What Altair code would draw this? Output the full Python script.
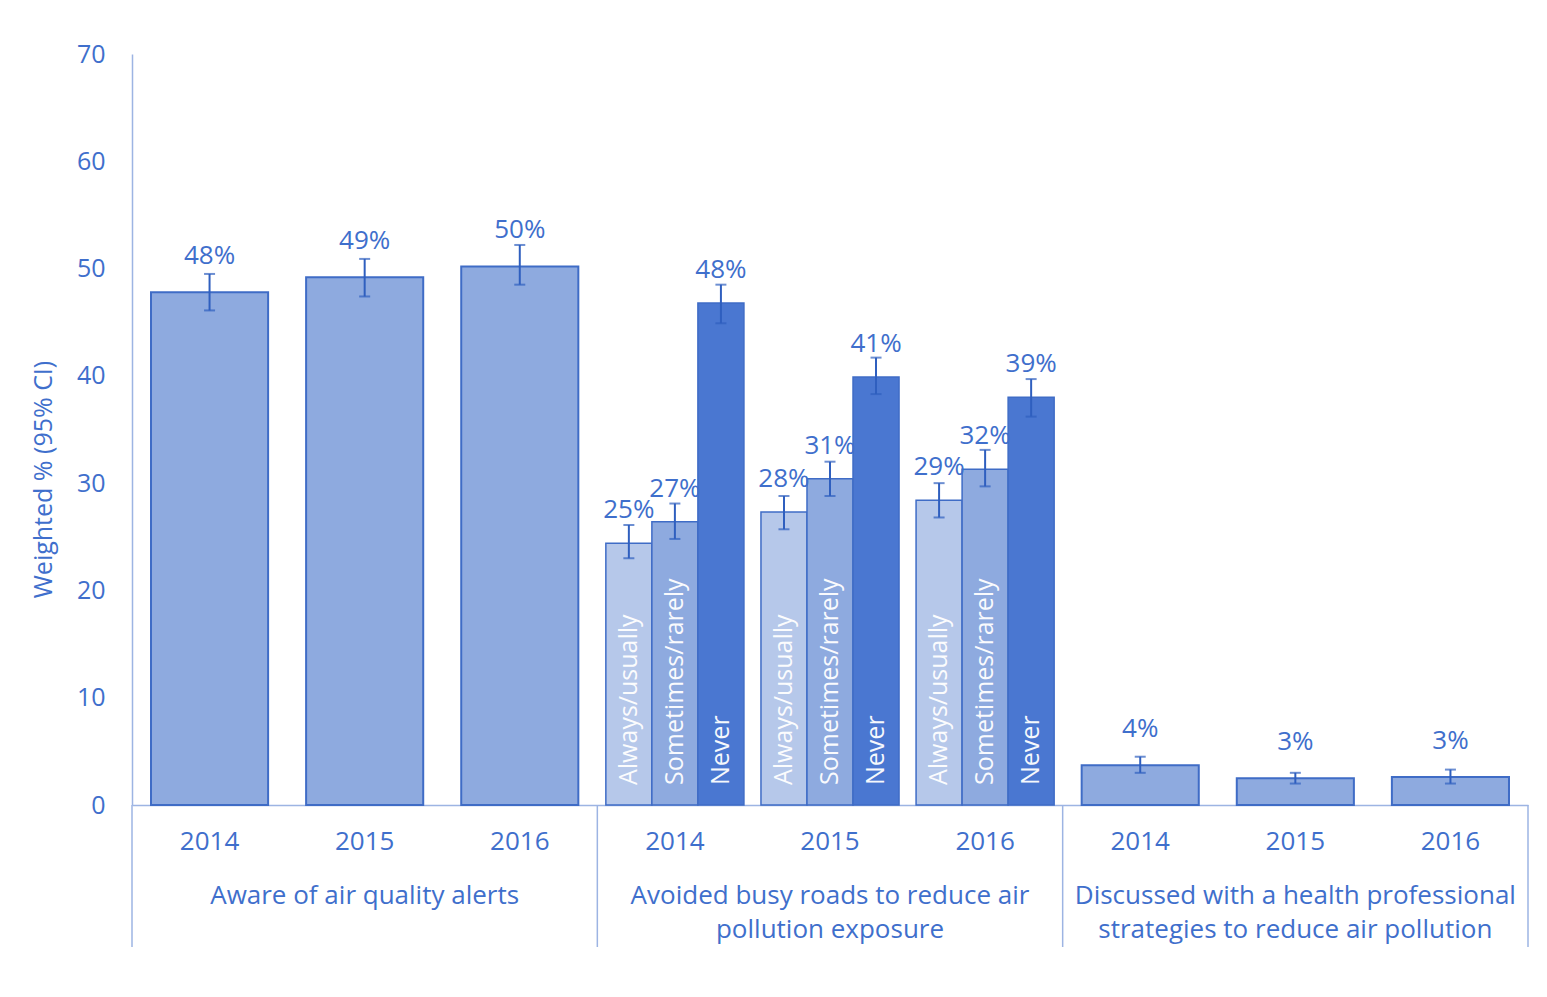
import altair as alt
import pandas as pd

# ---------------- data ----------------
years = ["2014", "2015", "2016"]
groups = ["g1", "g2", "g3"]
group_titles = [
    "Aware of air quality alerts",
    "Avoided busy roads to reduce air\npollution exposure",
    "Discussed with a health professional\nstrategies to reduce air pollution",
]

aware_vals = [47.8, 49.2, 50.2]
aware_lo = [46.1, 47.4, 48.5]
aware_hi = [49.5, 50.9, 52.2]
aware_labels = ["48%", "49%", "50%"]

freqs = ["Always/usually", "Sometimes/rarely", "Never"]
avoid_vals = [[24.4, 26.4, 46.8], [27.3, 30.4, 39.9], [28.4, 31.3, 38.0]]
avoid_lo = [[23.0, 24.8, 44.9], [25.7, 28.8, 38.3], [26.8, 29.7, 36.2]]
avoid_hi = [[26.1, 28.1, 48.5], [28.8, 32.0, 41.7], [30.0, 33.1, 39.7]]
avoid_labels = [["25%", "27%", "48%"], ["28%", "31%", "41%"], ["29%", "32%", "39%"]]

discuss_vals = [3.7, 2.5, 2.6]
discuss_lo = [3.0, 2.0, 2.0]
discuss_hi = [4.5, 3.0, 3.3]
discuss_labels = ["4%", "3%", "3%"]

y_ticks = [0, 10, 20, 30, 40, 50, 60, 70]

# ---------------- tables ----------------
slots = [f"{g}_{y}" for g in groups for y in years]

rows = []
for i, y in enumerate(years):
    rows.append(dict(slot=f"g1_{y}", value=aware_vals[i], lo=aware_lo[i], hi=aware_hi[i], label=aware_labels[i]))
    rows.append(dict(slot=f"g3_{y}", value=discuss_vals[i], lo=discuss_lo[i], hi=discuss_hi[i], label=discuss_labels[i]))
df_main = pd.DataFrame(rows)

rows = []
for i, y in enumerate(years):
    for j, f in enumerate(freqs):
        rows.append(dict(slot=f"g2_{y}", freq=f, value=avoid_vals[i][j], lo=avoid_lo[i][j],
                         hi=avoid_hi[i][j], label=avoid_labels[i][j]))
df_avoid = pd.DataFrame(rows)

df_groups = pd.DataFrame(dict(slot=[f"{g}_{years[1]}" for g in groups], text=group_titles))
df_sep_start = pd.DataFrame(dict(slot=[f"{g}_{years[0]}" for g in groups]))
df_sep_end = pd.DataFrame(dict(slot=[f"{groups[-1]}_{years[-1]}"]))

# ---------------- style ----------------
FONT = "Open Sans"
TXT = "#3f6fcc"
AXIS_LINE = "#9db4e3"
STROKE = "#3f6cc6"
ERR = "#2f5fbf"
freq_colors = ["#b6c8ea", "#8eaadf", "#4a77d1"]
W, H = 1396, 751

x_scale = alt.Scale(domain=slots, paddingInner=0, paddingOuter=0)
x_axis = alt.Axis(title=None, labelExpr="split(datum.label, '_')[1]", ticks=False,
                  domainColor=AXIS_LINE, domainWidth=1.5, labelFontSize=26, labelFont=FONT,
                  labelColor=TXT, labelPadding=23, labelAngle=0)
y_scale = alt.Scale(domain=[0, 70], nice=False, zero=True)
y_axis = alt.Axis(title="Weighted % (95% CI)", values=y_ticks, grid=False, ticks=False,
                  domainColor=AXIS_LINE, domainWidth=1.5, labelFontSize=25, labelFont=FONT,
                  labelColor=TXT, labelPadding=27, titleFont=FONT, titleFontSize=25,
                  titleFontWeight="normal", titleColor=TXT, titleX=-76, titleY=425,
                  titleAngle=270, titleBaseline="bottom", titleAlign="center")


def X(**kw):
    return alt.X("slot:N", scale=x_scale, axis=x_axis, **kw)


def Y(field):
    return alt.Y(f"{field}:Q", scale=y_scale, axis=y_axis)


xoff = alt.XOffset("freq:N", sort=freqs, scale=alt.Scale(domain=freqs, paddingInner=0, paddingOuter=0.185))

main = alt.Chart(df_main)
avoid = alt.Chart(df_avoid)

bars_main = main.mark_bar(width=alt.RelativeBandSize(0.755), color="#8eaadf", stroke=STROKE,
                          strokeWidth=2).encode(x=X(), y=Y("value"))
bars_avoid = avoid.mark_bar(stroke=STROKE, strokeWidth=1.5).encode(
    x=X(), xOffset=xoff, y=Y("value"),
    color=alt.Color("freq:N", scale=alt.Scale(domain=freqs, range=freq_colors), legend=None))

err_main = main.mark_rule(color=ERR, strokeWidth=2).encode(x=X(), y=Y("lo"), y2="hi")
cap_lo_main = main.mark_tick(color=ERR, size=11, thickness=2).encode(x=X(), y=Y("lo"))
cap_hi_main = main.mark_tick(color=ERR, size=11, thickness=2).encode(x=X(), y=Y("hi"))
err_avoid = avoid.mark_rule(color=ERR, strokeWidth=2).encode(x=X(), xOffset=xoff, y=Y("lo"), y2="hi")
cap_lo_avoid = avoid.mark_tick(color=ERR, size=11, thickness=2).encode(x=X(), xOffset=xoff, y=Y("lo"))
cap_hi_avoid = avoid.mark_tick(color=ERR, size=11, thickness=2).encode(x=X(), xOffset=xoff, y=Y("hi"))

lab_main = main.mark_text(font=FONT, fontSize=26, color=TXT, baseline="alphabetic", dy=-28).encode(
    x=X(), y=Y("value"), text="label:N")
lab_avoid = avoid.mark_text(font=FONT, fontSize=26, color=TXT, baseline="alphabetic", dy=-25).encode(
    x=X(), xOffset=xoff, y=Y("value"), text="label:N")

inner = avoid.mark_text(font=FONT, fontSize=25, color="white", angle=270, align="left",
                        baseline="middle", dx=20, opacity=0.95).encode(
    x=X(), xOffset=xoff, y=alt.datum(0, scale=y_scale, axis=y_axis), text="freq:N")

grp = alt.Chart(df_groups).mark_text(font=FONT, fontSize=26, color=TXT, baseline="top",
                                     lineBreak="\n", lineHeight=34).encode(
    x=X(), y=alt.value(829), text="text:N")

sep1 = alt.Chart(df_sep_start).mark_rule(color=AXIS_LINE, strokeWidth=1.5).encode(
    x=X(bandPosition=0), y=alt.value(H), y2=alt.value(893))
sep2 = alt.Chart(df_sep_end).mark_rule(color=AXIS_LINE, strokeWidth=1.5).encode(
    x=X(bandPosition=1), y=alt.value(H), y2=alt.value(893))

chart = alt.layer(
    bars_main, bars_avoid, err_main, cap_lo_main, cap_hi_main, err_avoid, cap_lo_avoid,
    cap_hi_avoid, lab_main, lab_avoid, inner, grp, sep1, sep2
).properties(
    width=W, height=H,
    autosize=alt.AutoSizeParams(type="none"),
    padding={"left": 124, "top": 46, "right": 10, "bottom": 150},
    background="white",
).configure_view(stroke=None)

chart.save("out.html", embed_options={"renderer": "svg", "actions": False})
